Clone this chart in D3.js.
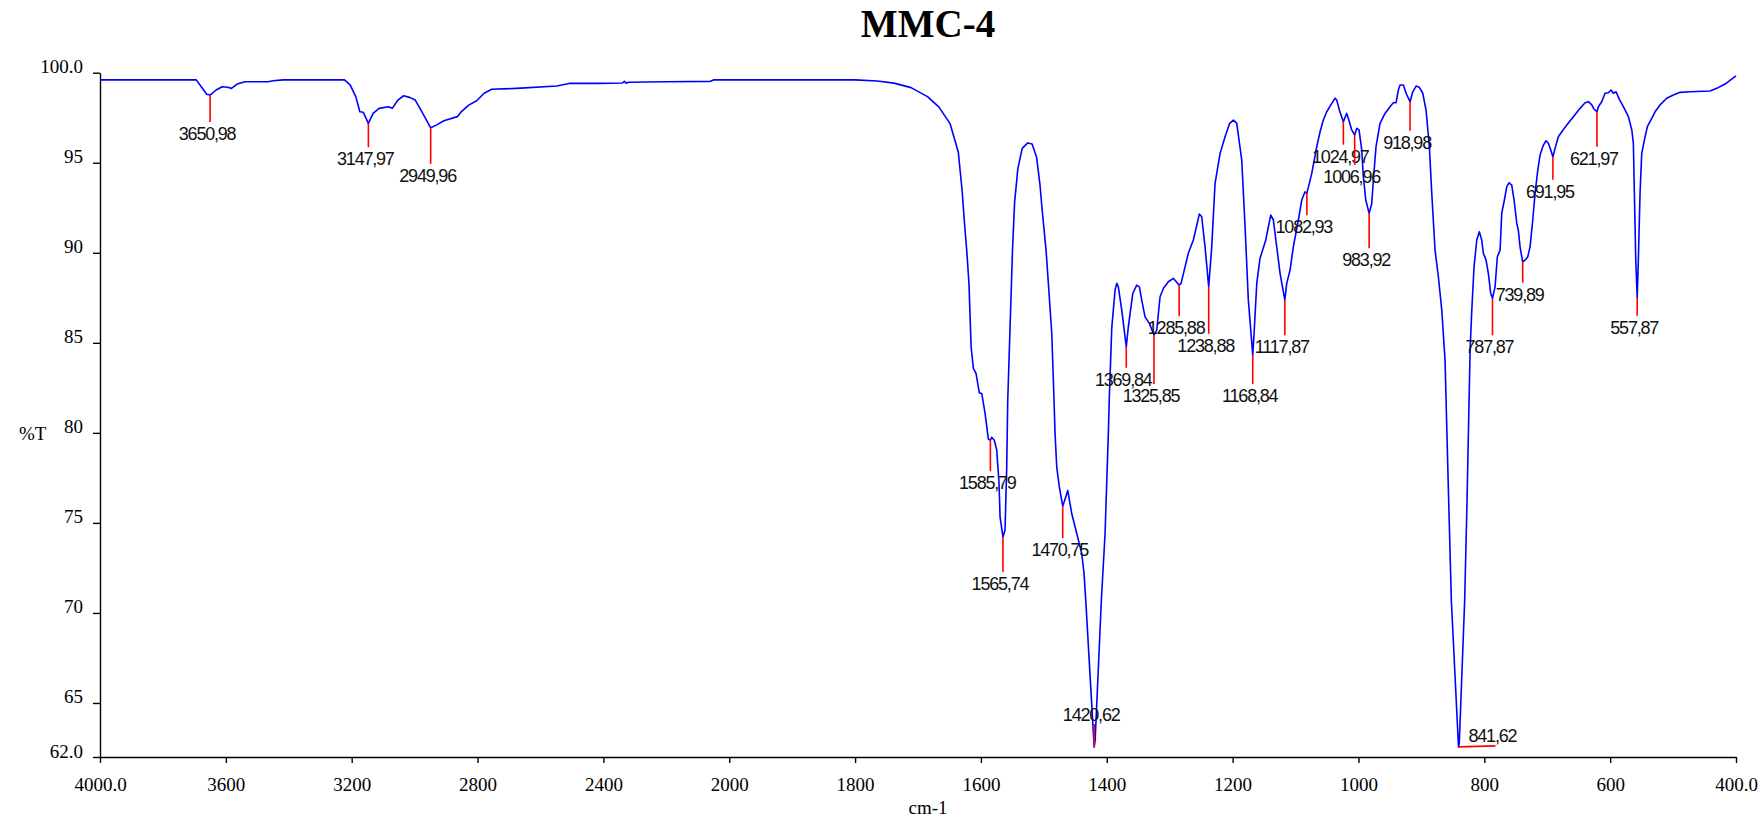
<!DOCTYPE html>
<html>
<head>
<meta charset="utf-8">
<title>MMC-4</title>
<script src="https://cdn.jsdelivr.net/npm/d3@7/dist/d3.min.js"></script>
<style>
  html, body { margin: 0; padding: 0; background: #ffffff; }
  svg { display: block; }
</style>
</head>
<body>
<script>
// IR spectrum of MMC-4: [wavenumber cm-1, %T]
const spectrum = [
  [4000, 99.6], [3694, 99.6], [3677, 99.19], [3661, 98.8], [3650, 98.76], [3631, 99.04],
  [3612, 99.22], [3594, 99.19], [3582, 99.13], [3564, 99.37], [3539, 99.5], [3466, 99.5],
  [3450, 99.55], [3418, 99.6], [3223, 99.6], [3205, 99.32], [3187, 98.67], [3174, 97.83],
  [3163, 97.8], [3147, 97.19], [3132, 97.74], [3113, 98.02], [3083, 98.11], [3071, 98.02],
  [3053, 98.48], [3035, 98.72], [3016, 98.63], [2998, 98.48], [2974, 97.74], [2949, 96.94],
  [2931, 97.09], [2907, 97.33], [2864, 97.56], [2852, 97.83], [2828, 98.2], [2803, 98.44],
  [2779, 98.86], [2755, 99.08], [2676, 99.13], [2548, 99.26], [2505, 99.41], [2411, 99.41],
  [2340, 99.43], [2333, 99.52], [2328, 99.42], [2320, 99.47], [2200, 99.5], [2060, 99.52],
  [2050, 99.6], [1800, 99.6], [1765, 99.54], [1738, 99.42], [1711, 99.17], [1685, 98.67],
  [1667, 98.1], [1649, 97.17], [1636, 95.6], [1630, 93.5], [1626, 91.6], [1622.6, 90.15],
  [1619, 88.3], [1615.6, 84.78], [1612, 83.58], [1607.8, 83.3], [1602.5, 82.22], [1598.7, 82.19],
  [1593.4, 81.08], [1588.2, 79.65], [1585, 79.59], [1582.8, 79.75], [1578.7, 79.59], [1574.9, 79.04],
  [1571.2, 77.19], [1569.6, 75.33], [1565, 74.22], [1561.7, 74.6], [1559, 78.1], [1557.4, 81.8],
  [1549.8, 90.15], [1546.5, 92.8], [1541.3, 94.67], [1534.4, 95.8], [1525.6, 96.1], [1518.7, 96.04],
  [1511.5, 95.3], [1506, 93.73], [1503, 92.5], [1496.5, 90.15], [1492.8, 88.3], [1487.4, 85.52],
  [1483.8, 81.8], [1482.2, 79.97], [1479.5, 78.1], [1475.4, 77.0], [1470, 75.93], [1465.2, 76.44],
  [1462, 76.8], [1455.7, 75.52], [1447.7, 74.41], [1439.8, 73.3], [1436.1, 72.19], [1433.4, 70.7],
  [1420, 62.55], [1418.5, 62.9], [1408.6, 70.7], [1402.7, 74.41], [1397.5, 79.97], [1395.9, 82.0],
  [1392.1, 85.8], [1386.8, 87.93], [1384.1, 88.3], [1381.6, 88.11], [1376.2, 86.82], [1369, 84.78],
  [1365.7, 85.89], [1358.7, 87.74], [1352.4, 88.2], [1348.2, 88.11], [1344.4, 87.37], [1339.2, 86.44],
  [1332.3, 86.08], [1325, 85.43], [1320.6, 85.7], [1315.3, 87.56], [1310.1, 88.02], [1302.1, 88.39],
  [1294.2, 88.58], [1285, 88.2], [1281.9, 88.3], [1275.6, 89.22], [1270.4, 89.97], [1262.4, 90.71],
  [1252.9, 92.15], [1249.1, 92.0], [1243.8, 90.33], [1238, 88.11], [1233.2, 90.33], [1227.9, 93.86],
  [1219.9, 95.52], [1212, 96.44], [1204.7, 97.19], [1198.8, 97.37], [1193.4, 97.19], [1185.5, 95.15],
  [1180.2, 91.44], [1175, 87.37], [1168, 84.32], [1165.9, 85.52], [1161.6, 88.3], [1156.4, 89.7],
  [1147.3, 90.71], [1139.4, 92.09], [1135.2, 91.82], [1129.9, 90.33], [1124.6, 88.86], [1117, 87.37],
  [1114, 88.3], [1108.7, 89.04], [1103.5, 90.33], [1095.5, 91.82], [1090.1, 92.93], [1084.9, 93.39],
  [1082, 93.3], [1074.2, 94.41], [1066.3, 95.89], [1061, 96.72], [1055.8, 97.37], [1050.4, 97.83],
  [1042.4, 98.3], [1037.2, 98.58], [1034.5, 98.48], [1030.4, 97.93], [1024, 97.28], [1018.6, 97.74],
  [1014.5, 97.28], [1010.7, 96.82], [1006, 96.54], [1002.7, 96.91], [999.1, 96.82], [994.8, 95.71],
  [992.2, 94.22], [988.4, 92.93], [983, 92.19], [978.9, 92.74], [976.3, 94.04], [972.1, 95.89],
  [965.7, 97.19], [957.8, 97.74], [949.8, 98.11], [944.5, 98.33], [940.3, 98.33], [936.6, 99.04],
  [933.9, 99.32], [928.6, 99.32], [924.3, 98.86], [918, 98.39], [913.7, 98.94], [908.4, 99.26],
  [903.2, 99.19], [897.8, 98.86], [892.6, 97.93], [887.3, 95.89], [883.5, 93.3], [878.3, 90.15],
  [873.0, 88.67], [867.6, 86.82], [862.4, 84.04], [857.5, 77.4], [852.4, 70.7], [841, 62.56],
  [839.8, 62.74], [831.2, 70.7], [827.4, 76.3], [822.6, 84.59], [819.9, 86.82], [816.3, 89.22],
  [812, 90.71], [807.9, 91.17], [804.1, 90.71], [801.5, 89.97], [797.2, 89.59], [793.6, 88.86],
  [789.8, 87.74], [787, 87.47], [782.9, 88.11], [779.3, 89.78], [774.9, 90.15], [772.3, 92.19],
  [768.1, 92.93], [764.3, 93.67], [760.6, 93.89], [756.4, 93.76], [752.7, 92.93], [748.4, 91.63],
  [745.9, 91.26], [743.2, 90.33], [739, 89.5], [735.2, 89.59], [730.9, 89.78], [727.3, 90.33],
  [723, 91.82], [719.3, 93.3], [715, 94.59], [711.4, 95.43], [706.1, 95.98], [701.9, 96.22],
  [698.2, 96.08], [694.4, 95.71], [691, 95.33], [687.5, 95.8], [682.3, 96.44], [676.9, 96.72],
  [668.9, 97.09], [658.4, 97.56], [647.8, 98.02], [639.8, 98.33], [634.6, 98.39], [629.2, 98.21],
  [625.5, 97.97], [621, 97.83], [618.7, 98.11], [613.4, 98.39], [608.1, 98.86], [602.8, 98.89],
  [598.6, 99.04], [594.9, 98.86], [590.6, 98.94], [585.4, 98.52], [579, 98.11], [571, 97.56],
  [565.6, 96.82], [563.1, 96.08], [561.5, 93.3], [559.3, 89.59], [557, 87.5], [555.2, 89.59],
  [552.5, 93.3], [549.8, 95.52], [545.6, 96.26], [540.9, 97.0], [533.9, 97.47], [528.6, 97.83],
  [520.7, 98.21], [510.1, 98.58], [499.6, 98.76], [488.9, 98.91], [473, 98.94], [441.3, 98.98],
  [430.6, 99.13], [417.4, 99.37], [400, 99.82]
];

// Picked peaks (wavenumber, %T at the band minimum)
const peakWavenumbers = [3650, 3147, 2949, 1585, 1565, 1470, 1420, 1369, 1325, 1285, 1238, 1168,
                         1117, 1082, 1024, 1006, 983, 918, 841, 787, 739, 691, 621, 557];
const peakTransmittance = [98.76, 97.19, 96.94, 79.59, 74.22, 75.93, 62.55, 84.78, 85.43, 88.2, 88.11, 84.32,
                           87.37, 93.3, 97.28, 96.54, 92.19, 98.39, 62.56, 87.47, 89.5, 95.33, 97.83, 87.5];

// Leader line direction and length (px) for each peak annotation
const peakLeaderSide = ["down", "down", "down", "down", "down", "down", "up", "down", "down", "down", "down", "down",
                        "down", "down", "down", "down", "down", "down", "right", "down", "down", "down", "down", "down"];
const peakLeaderLength = [27, 24, 36, 31, 35, 32, 23, 21, 49, 31, 47, 29,
                          35, 22, 23, 30, 35, 29, 37, 37, 21, 23, 35, 18];

const xTickValues = [4000, 3600, 3200, 2800, 2400, 2000, 1800, 1600, 1400, 1200, 1000, 800, 600, 400];
const yTickValues = [100, 95, 90, 85, 80, 75, 70, 65, 62];

const chartTitle = "MMC-4";
const xAxisTitle = "cm-1";
const yAxisTitle = "%T";

// ---- layout ----
const W = 1763, H = 821;
const plotLeft = 100, plotRight = 1736, plotTop = 72.7, plotBottom = 757;
const serif = "'Liberation Serif', 'Times New Roman', serif";
const sans = "'Liberation Sans', Arial, sans-serif";

const svg = d3.select("body").append("svg")
  .attr("width", W).attr("height", H)
  .attr("viewBox", `0 0 ${W} ${H}`);

svg.append("rect").attr("width", W).attr("height", H).attr("fill", "#ffffff");

// Wavenumber axis with the usual 2x expansion below 2000 cm-1
const x = d3.scaleLinear()
  .domain([4000, 2000, 400])
  .range([plotLeft, plotLeft + (plotRight - plotLeft) * 1000 / 2600, plotRight]);

const y = d3.scaleLinear().domain([62, 100]).range([plotBottom, plotTop]);

const endFmt = v => (v === 4000 || v === 400 || v === 100 || v === 62) ? v.toFixed(1) : String(v);

// x axis
const gx = svg.append("g")
  .attr("transform", `translate(0,${plotBottom})`)
  .call(d3.axisBottom(x).tickValues(xTickValues).tickFormat(endFmt)
    .tickSizeInner(6).tickSizeOuter(0).tickPadding(14.5));
gx.select(".domain").attr("stroke", "#000").attr("stroke-width", 1.4);
gx.selectAll(".tick line").attr("stroke", "#000").attr("stroke-width", 1.4);
gx.selectAll(".tick text").attr("fill", "#000")
  .style("font-family", serif).style("font-size", "19px");

// y axis
const gy = svg.append("g")
  .attr("transform", `translate(${plotLeft},0)`)
  .call(d3.axisLeft(y).tickValues(yTickValues).tickFormat(endFmt)
    .tickSizeInner(7).tickSizeOuter(0));
gy.select(".domain").attr("stroke", "#000").attr("stroke-width", 1.4);
gy.selectAll(".tick line").attr("stroke", "#000").attr("stroke-width", 1.4);
gy.selectAll(".tick text").attr("fill", "#000")
  .attr("x", -17).attr("dy", "0")
  .style("font-family", serif).style("font-size", "19px");

// titles
svg.append("text")
  .attr("x", 928).attr("y", 37)
  .attr("text-anchor", "middle")
  .style("font-family", serif).style("font-size", "39px").style("font-weight", "bold")
  .text(chartTitle);

svg.append("text")
  .attr("x", 928).attr("y", 814)
  .attr("text-anchor", "middle")
  .style("font-family", serif).style("font-size", "19px")
  .text(xAxisTitle);

svg.append("text")
  .attr("x", 19).attr("y", 440)
  .style("font-family", serif).style("font-size", "19px")
  .text(yAxisTitle);

// spectrum trace
const line = d3.line().x(d => x(d[0])).y(d => y(d[1]));
svg.append("path")
  .datum(spectrum)
  .attr("d", line)
  .attr("fill", "none")
  .attr("stroke", "#0000ff")
  .attr("stroke-width", 1.6)
  .attr("stroke-linejoin", "round");

// peak annotations
const peaks = peakWavenumbers.map((wn, i) => ({
  wn, t: peakTransmittance[i], side: peakLeaderSide[i], len: peakLeaderLength[i]
}));

const gp = svg.append("g");
peaks.forEach(p => {
  const px = x(p.wn), py = y(p.t);
  let x2 = px, y2 = py, tx, ty, anchor = "middle";
  if (p.side === "down") {
    y2 = py + p.len; tx = px - 3; ty = y2 + 18;
  } else if (p.side === "up") {
    y2 = py - p.len; tx = px - 3; ty = y2 - 3;
  } else {
    x2 = px + p.len; y2 = py - 1; tx = px + 10; ty = py - 5; anchor = "start";
  }
  gp.append("line")
    .attr("x1", px).attr("y1", py).attr("x2", x2).attr("y2", y2)
    .attr("stroke", "#ff0000").attr("stroke-width", 1.6);
  gp.append("text")
    .attr("x", tx).attr("y", ty)
    .attr("text-anchor", anchor)
    .style("font-family", sans).style("font-size", "18px")
    .style("letter-spacing", "-1.2px")
    .attr("fill", "#111")
    .text(`${p.wn},${Math.trunc(p.t)}`);
});
</script>
</body>
</html>
